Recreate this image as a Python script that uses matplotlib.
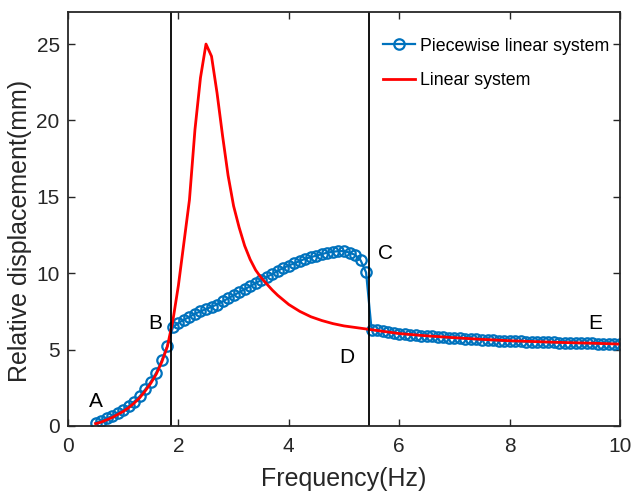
import numpy as np
import matplotlib
matplotlib.use("Agg")
import matplotlib.pyplot as plt

plt.rcParams['font.family'] = ['Liberation Sans', 'DejaVu Sans']

# piecewise linear system, sampled every 0.1 Hz from 0.5 to 10 Hz
f_pw = np.round(np.arange(0.5, 10.05, 0.1), 2)
y_pw = [0.20, 0.35, 0.50, 0.65, 0.85, 1.05, 1.30, 1.60, 1.95, 2.40,
        2.90, 3.50, 4.30, 5.25, 6.45, 6.75, 6.95, 7.15, 7.35, 7.50,
        7.65, 7.80, 7.95, 8.15, 8.35, 8.55, 8.75, 8.95, 9.15, 9.35,
        9.55, 9.75, 9.95, 10.15, 10.35, 10.50, 10.65, 10.80, 10.95, 11.05,
        11.15, 11.25, 11.35, 11.40, 11.45, 11.45, 11.35, 11.20, 10.85, 10.05,
        6.30, 6.25, 6.20, 6.15, 6.10, 6.05, 6.02, 5.98, 5.95, 5.92,
        5.90, 5.87, 5.84, 5.81, 5.78, 5.76, 5.74, 5.72, 5.70, 5.67,
        5.65, 5.63, 5.61, 5.59, 5.57, 5.55, 5.54, 5.53, 5.52, 5.51,
        5.50, 5.49, 5.48, 5.47, 5.46, 5.45, 5.44, 5.43, 5.42, 5.41,
        5.40, 5.39, 5.38, 5.38, 5.37, 5.36]

# linear system
f_lin = [0.5, 0.6, 0.7, 0.8, 0.9, 1.0, 1.1, 1.2, 1.3, 1.4, 1.5, 1.6, 1.7,
         1.8, 1.9, 2.0, 2.1, 2.2, 2.3, 2.4, 2.5, 2.6, 2.7, 2.8, 2.9, 3.0,
         3.1, 3.2, 3.3, 3.4, 3.5, 3.6, 3.7, 3.8, 3.9, 4.0, 4.2, 4.4, 4.6,
         4.8, 5.0, 5.2, 5.4, 5.6, 6.0, 6.5, 7.0, 7.5, 8.0, 8.5, 9.0, 9.5, 10.0]
y_lin = [0.15, 0.25, 0.40, 0.55, 0.75, 0.95, 1.20, 1.50, 1.85, 2.30, 2.80,
         3.40, 4.20, 5.20, 6.90, 9.20, 12.0, 14.8, 19.4, 22.8, 25.0, 24.2,
         21.8, 19.0, 16.4, 14.4, 13.0, 11.8, 10.9, 10.2, 9.70, 9.30, 8.90,
         8.55, 8.25, 7.95, 7.50, 7.15, 6.90, 6.70, 6.55, 6.45, 6.35, 6.25,
         6.05, 5.90, 5.78, 5.67, 5.58, 5.52, 5.46, 5.42, 5.36]

# boundaries between regions and point labels
x_bounds = [1.87, 5.45]
labels = ['A', 'B', 'C', 'D', 'E']
label_x = [0.50, 1.58, 5.75, 5.05, 9.55]
label_y = [1.6, 6.7, 11.3, 4.5, 6.7]

fig = plt.figure(figsize=(6.32, 4.97), dpi=100)
ax = fig.add_axes([0.1076, 0.1429, 0.8734, 0.8330])

ax.plot(f_pw, y_pw, '-o', color='#0072BD', lw=1.6, ms=7.5, mew=1.6,
        mfc='none', label='Piecewise linear system')
ax.plot(f_lin, y_lin, '-', color='red', lw=2.0, label='Linear system')
for xb in x_bounds:
    ax.axvline(xb, color='black', lw=1.3)

for t, tx, ty in zip(labels, label_x, label_y):
    ax.text(tx, ty, t, fontsize=15, ha='center', va='center')

ax.set_xlim(0, 10)
ax.set_ylim(0, 27.1)
ax.set_xticks([0, 2, 4, 6, 8, 10])
ax.set_yticks([0, 5, 10, 15, 20, 25])
ax.tick_params(direction='in', top=True, right=True, length=5,
               width=1.0, labelsize=15, colors='#262626')
ax.tick_params(axis='x', pad=8)
ax.tick_params(axis='y', pad=6)
for sp in ax.spines.values():
    sp.set_linewidth(1.3)
    sp.set_color('#262626')

ax.set_xlabel('Frequency(Hz)', fontsize=18, color='#262626', labelpad=8)
ax.set_ylabel('Relative displacement(mm)', fontsize=18, color='#262626')
ax.yaxis.set_label_coords(-0.065, 0.47)

ax.legend(loc='upper left', bbox_to_anchor=(0.558, 0.955), frameon=False,
          fontsize=12.8, handlelength=1.8, handletextpad=0.25,
          labelspacing=1.0, borderaxespad=0)

fig.savefig('out.png', dpi=100)
